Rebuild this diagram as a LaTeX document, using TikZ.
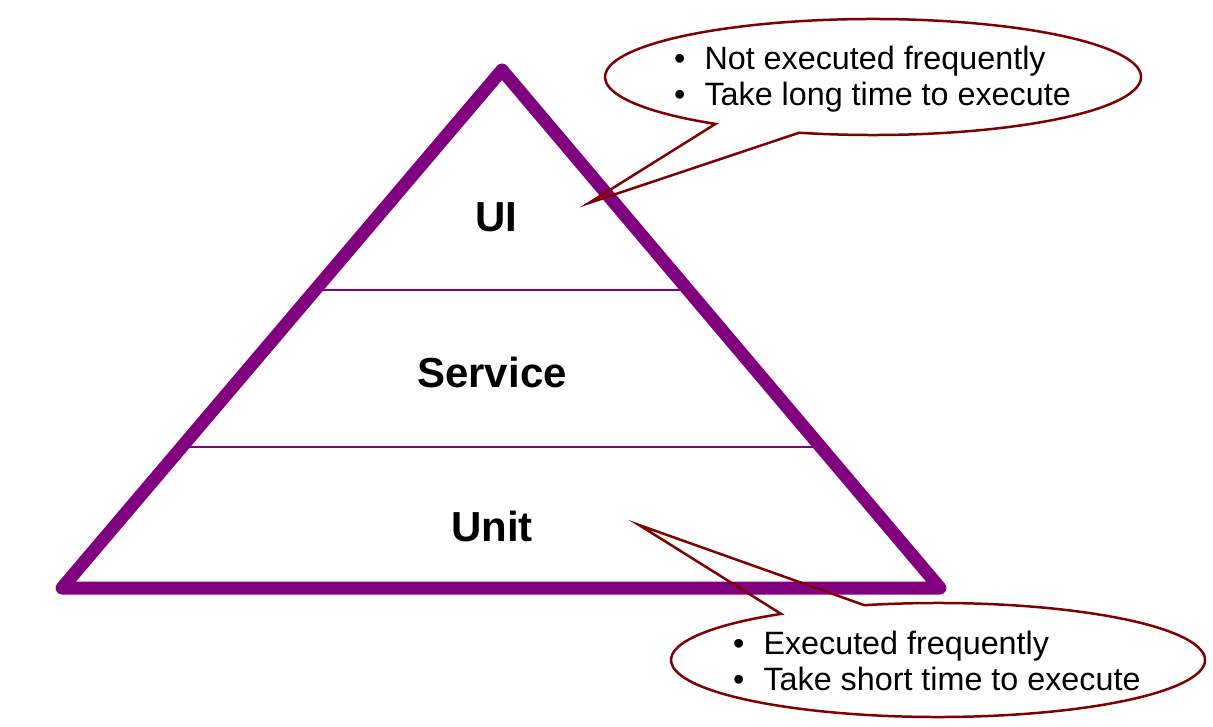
\documentclass[tikz,border=0pt]{standalone}
\usepackage{fontspec}
\setmainfont{Liberation Sans}
\usetikzlibrary{calc}

\definecolor{pyrpurple}{RGB}{128,0,128}
\definecolor{calloutred}{RGB}{128,0,0}

\tikzset{
  pyramid/.style={pyrpurple,line width=13pt,line join=round},
  layerline/.style={pyrpurple,line width=2pt},
  layertext/.style={font=\fontsize{42}{48}\selectfont\bfseries,inner sep=0pt},
  bubble/.style={calloutred,line width=2.5pt,line join=miter},
  bubbletext/.style={font=\fontsize{32.3}{36}\selectfont,align=left,anchor=west,inner sep=0pt}
}

\begin{document}
\begin{tikzpicture}[x=1pt,y=-1pt]
  \useasboundingbox (0,0) rectangle (1213,727);
  % pyramid
  \coordinate (bl) at (62,588);
  \coordinate (top) at (502,70);
  \coordinate (br) at (940,588);
  \draw[pyramid] (bl) -- (top) -- (br) -- cycle;
  \draw[layerline] ($(bl)!0.575!(top)$) -- ($(br)!0.575!(top)$);
  \draw[layerline] ($(bl)!0.272!(top)$) -- ($(br)!0.272!(top)$);
  \node[layertext] (ui) at (496,217) {UI};
  \node[layertext] (service) at (492,372) {Service};
  \node[layertext] (unit) at (492,526) {Unit};

  % callouts
  \coordinate (c1) at (873,77);
  \coordinate (tip1) at (589,203);
  \draw[bubble] ($(c1)+(126:268 and 58)$) -- (tip1) -- ($(c1)+(106:268 and 58)$)
    arc[start angle=106,end angle=-234,x radius=268,y radius=58] -- cycle;
  \node[bubbletext] (slow) at (674,79)
    {\textbullet\hspace{19pt}Not executed frequently\\
     \textbullet\hspace{19pt}Take long time to execute};

  \coordinate (c2) at (938,660);
  \coordinate (tip2) at (639,525);
  \draw[bubble] ($(c2)+(-126:267 and 57)$) -- (tip2) -- ($(c2)+(-106:267 and 57)$)
    arc[start angle=-106,end angle=234,x radius=267,y radius=57] -- cycle;
  \node[bubbletext] (fast) at (733,661)
    {\textbullet\hspace{19pt}Executed frequently\\
     \textbullet\hspace{19pt}Take short time to execute};
\end{tikzpicture}
\end{document}
